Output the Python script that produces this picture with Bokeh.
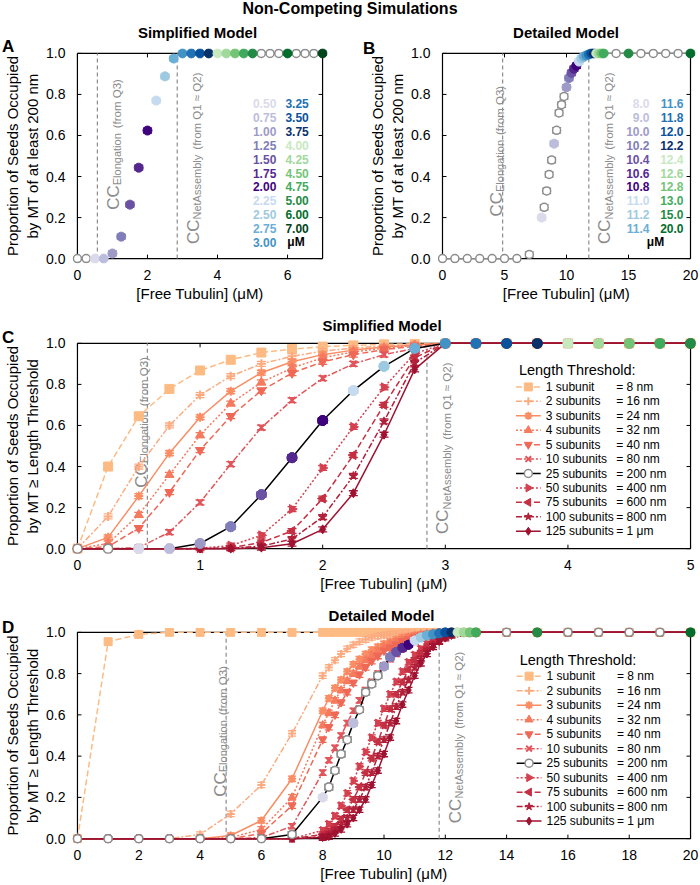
import math
from bokeh.plotting import figure
from bokeh.models import Range1d, FixedTicker, Div, NumeralTickFormatter
from bokeh.layouts import column, row
from bokeh.embed import file_html
from bokeh.resources import INLINE
from bokeh.core.properties import value

FONT = "Liberation Sans"
GRAY = "#8c8c8c"

# ---------------- Simplified model (A, C) ----------------
X_SIMPLE = [0.0, 0.25, 0.5, 0.75, 1.0, 1.25, 1.5, 1.75, 2.0, 2.25, 2.5, 2.75, 3.0,
            3.25, 3.5, 3.75, 4.0, 4.25, 4.5, 4.75, 5.0, 5.25, 5.5, 5.75, 6.0, 6.25, 6.5, 6.75, 7.0]
Y_SIMPLE_200NM = [0.0, 0.0, 0.0, 0.0, 0.025, 0.107, 0.263, 0.443, 0.624, 0.77, 0.888, 0.975, 1.0,
                  1.0, 1.0, 1.0, 1.0, 1.0, 1.0, 1.0, 1.0, 1.0, 1.0, 1.0, 1.0, 1.0, 1.0, 1.0, 1.0]
COLORS_SIMPLE = [None, None, "#dadaeb", "#bcbddc", "#9e9ac8", "#807dba", "#6a51a3", "#54278f", "#3f007d",
                 "#c6dbef", "#9ecae1", "#6baed6", "#4292c6", "#2171b5", "#08519c", "#08306b",
                 "#c7e9c0", "#a1d99b", "#74c476", "#41ab5d", "#238b45", None, None, None, "#006d2c",
                 None, None, None, "#00441b"]
SEM_SIMPLE = 0.012

X_C = [0.0, 0.25, 0.5, 0.75, 1.0, 1.25, 1.5, 1.75, 2.0, 2.25, 2.5, 2.75, 3.0,
       3.25, 3.5, 3.75, 4.0, 4.25, 4.5, 4.75, 5.0]
C_1 = [0, 0.40, 0.645, 0.778, 0.868, 0.92, 0.955, 0.972, 0.984, 0.99, 0.995, 0.998, 1, 1, 1, 1, 1, 1, 1, 1, 1]
C_2 = [0, 0.157, 0.40, 0.60, 0.748, 0.84, 0.90, 0.937, 0.962, 0.977, 0.987, 0.994, 1, 1, 1, 1, 1, 1, 1, 1, 1]
C_3 = [0, 0.055, 0.256, 0.465, 0.64, 0.767, 0.857, 0.91, 0.945, 0.967, 0.982, 0.992, 1, 1, 1, 1, 1, 1, 1, 1, 1]
C_4 = [0, 0.025, 0.165, 0.36, 0.553, 0.707, 0.81, 0.88, 0.93, 0.958, 0.976, 0.99, 1, 1, 1, 1, 1, 1, 1, 1, 1]
C_5 = [0, 0.01, 0.10, 0.275, 0.48, 0.645, 0.77, 0.855, 0.91, 0.945, 0.97, 0.985, 1, 1, 1, 1, 1, 1, 1, 1, 1]
C_10 = [0, 0, 0.005, 0.08, 0.225, 0.412, 0.59, 0.723, 0.83, 0.90, 0.945, 0.975, 1, 1, 1, 1, 1, 1, 1, 1, 1]
C_25 = [0, 0, 0, 0, 0.025, 0.107, 0.263, 0.443, 0.624, 0.77, 0.888, 0.975, 1, 1, 1, 1, 1, 1, 1, 1, 1]
C_50 = [0, 0, 0, 0, 0.002, 0.015, 0.065, 0.193, 0.393, 0.593, 0.786, 0.95, 1, 1, 1, 1, 1, 1, 1, 1, 1]
C_75 = [0, 0, 0, 0, 0, 0.005, 0.03, 0.086, 0.244, 0.456, 0.70, 0.93, 1, 1, 1, 1, 1, 1, 1, 1, 1]
C_100 = [0, 0, 0, 0, 0, 0.002, 0.012, 0.047, 0.154, 0.354, 0.62, 0.905, 1, 1, 1, 1, 1, 1, 1, 1, 1]
C_125 = [0, 0, 0, 0, 0, 0, 0.005, 0.024, 0.094, 0.27, 0.555, 0.873, 1, 1, 1, 1, 1, 1, 1, 1, 1]
C_COLORS_200NM = [None, None, "#dadaeb", "#bcbddc", "#9e9ac8", "#807dba", "#6a51a3", "#54278f", "#3f007d",
                  "#c6dbef", "#9ecae1", "#6baed6", "#4292c6", "#2171b5", "#08519c", "#08306b",
                  "#c7e9c0", "#a1d99b", "#74c476", "#41ab5d", "#238b45"]

# ---------------- Detailed model (B, D) ----------------
X_DETAIL = [0, 1, 2, 3, 4, 5, 6, 7,
            8.0, 8.2, 8.4, 8.6, 8.8, 9.0, 9.2, 9.4, 9.6, 9.8,
            10.0, 10.2, 10.4, 10.6, 10.8, 11.0, 11.2, 11.4, 11.6, 11.8,
            12.0, 12.2, 12.4, 12.6, 12.8, 13.0,
            14, 15, 16, 17, 18, 19, 20]
Y_DETAIL_200NM = [0, 0, 0, 0, 0, 0, 0, 0.02,
                  0.20, 0.25, 0.33, 0.41, 0.48, 0.56, 0.625, 0.71, 0.75, 0.79,
                  0.835, 0.88, 0.905, 0.925, 0.94, 0.96, 0.975, 0.985, 0.99, 0.995,
                  1, 1, 1, 1, 1, 1,
                  1, 1, 1, 1, 1, 1, 1]
COLORS_DETAIL = [None, None, None, None, None, None, None, None,
                 "#dadaeb", None, None, None, None, "#bcbddc", None, None, None, None,
                 "#9e9ac8", "#807dba", "#6a51a3", "#54278f", "#3f007d", "#c6dbef", "#9ecae1", "#6baed6",
                 "#4292c6", "#2171b5",
                 "#08519c", "#08306b", "#c7e9c0", "#a1d99b", "#74c476", "#41ab5d",
                 None, "#238b45", None, None, None, None, "#006d2c"]
SEM_DETAIL = 0.013

D_1 = [0, 0.955, 0.99, 1, 1, 1, 1, 1,
       1, 1, 1, 1, 1, 1, 1, 1, 1, 1,
       1, 1, 1, 1, 1, 1, 1, 1, 1, 1,
       1, 1, 1, 1, 1, 1,
       1, 1, 1, 1, 1, 1, 1]
D_2 = [0, 0, 0, 0, 0.02, 0.12, 0.26, 0.51,
       0.79, 0.83, 0.865, 0.895, 0.92, 0.94, 0.955, 0.965, 0.975, 0.982,
       0.987, 0.991, 0.994, 0.996, 0.998, 1, 1, 1, 1, 1,
       1, 1, 1, 1, 1, 1,
       1, 1, 1, 1, 1, 1, 1]
D_3 = [0, 0, 0, 0, 0, 0.015, 0.088, 0.29,
       0.62, 0.68, 0.73, 0.77, 0.81, 0.845, 0.87, 0.895, 0.915, 0.93,
       0.945, 0.955, 0.965, 0.975, 0.98, 0.985, 0.99, 0.993, 0.996, 0.998,
       1, 1, 1, 1, 1, 1,
       1, 1, 1, 1, 1, 1, 1]
D_4 = [0, 0, 0, 0, 0, 0.005, 0.045, 0.20,
       0.55, 0.61, 0.67, 0.72, 0.765, 0.80, 0.835, 0.865, 0.89, 0.91,
       0.93, 0.945, 0.955, 0.965, 0.975, 0.982, 0.988, 0.992, 0.995, 0.998,
       1, 1, 1, 1, 1, 1,
       1, 1, 1, 1, 1, 1, 1]
D_5 = [0, 0, 0, 0, 0, 0, 0.025, 0.16,
       0.48, 0.54, 0.60, 0.66, 0.71, 0.755, 0.795, 0.83, 0.86, 0.885,
       0.91, 0.925, 0.94, 0.955, 0.965, 0.975, 0.983, 0.99, 0.994, 0.997,
       1, 1, 1, 1, 1, 1,
       1, 1, 1, 1, 1, 1, 1]
D_10 = [0, 0, 0, 0, 0, 0, 0.005, 0.06,
        0.32, 0.38, 0.44, 0.50, 0.56, 0.62, 0.67, 0.72, 0.76, 0.80,
        0.84, 0.87, 0.895, 0.92, 0.94, 0.955, 0.97, 0.98, 0.988, 0.994,
        1, 1, 1, 1, 1, 1,
        1, 1, 1, 1, 1, 1, 1]
D_50 = [0, 0, 0, 0, 0, 0, 0, 0,
        0.04, 0.07, 0.11, 0.16, 0.22, 0.28, 0.35, 0.42, 0.49, 0.56,
        0.63, 0.70, 0.76, 0.81, 0.855, 0.89, 0.92, 0.945, 0.965, 0.98,
        0.99, 0.996, 1, 1, 1, 1,
        1, 1, 1, 1, 1, 1, 1]
D_75 = [0, 0, 0, 0, 0, 0, 0, 0,
        0.02, 0.035, 0.06, 0.095, 0.14, 0.19, 0.25, 0.32, 0.39, 0.47,
        0.55, 0.63, 0.70, 0.76, 0.82, 0.865, 0.90, 0.93, 0.955, 0.972,
        0.985, 0.993, 1, 1, 1, 1,
        1, 1, 1, 1, 1, 1, 1]
D_100 = [0, 0, 0, 0, 0, 0, 0, 0,
         0.01, 0.02, 0.04, 0.065, 0.10, 0.14, 0.19, 0.25, 0.32, 0.40,
         0.48, 0.56, 0.64, 0.71, 0.77, 0.83, 0.87, 0.91, 0.94, 0.96,
         0.978, 0.99, 1, 1, 1, 1,
         1, 1, 1, 1, 1, 1, 1]
D_125 = [0, 0, 0, 0, 0, 0, 0, 0,
         0.005, 0.01, 0.025, 0.045, 0.07, 0.10, 0.14, 0.19, 0.26, 0.33,
         0.41, 0.49, 0.57, 0.65, 0.72, 0.79, 0.85, 0.895, 0.93, 0.955,
         0.972, 0.985, 0.995, 1, 1, 1,
         1, 1, 1, 1, 1, 1, 1]

# critical concentrations (µM)
CC_ELONG_SIMPLE, CC_NET_SIMPLE = 0.57, 2.85
CC_ELONG_DETAIL, CC_NET_DETAIL = 4.85, 11.8

# length thresholds: label, equivalence, colour, dash, marker
SERIES_LABELS = ["1 subunit", "2 subunits", "3 subunits", "4 subunits", "5 subunits", "10 subunits",
                 "25 subunits", "50 subunits", "75 subunits", "100 subunits", "125 subunits"]
SERIES_EQ = ["= 8 nm", "= 16 nm", "= 24 nm", "= 32 nm", "= 40 nm", "= 80 nm",
             "= 200 nm", "= 400 nm", "= 600 nm", "= 800 nm", "= 1 μm"]
SERIES_COLORS = ["#fdbb84", "#fcab80", "#fa8d64", "#f57a5e", "#ef6856", "#e1545a",
                 "black", "#d4404f", "#c52f42", "#b31f38", "#9f1230"]
SERIES_DASH = ["6 3", "6 2 2 2", "solid", "2 2", "6 3", "6 2 2 2",
               "solid", "2 2", "6 3", "6 2 2 2", "solid"]
SERIES_MARKER = [("square", 0), ("cross", 0), ("asterisk", 0), ("triangle", 0), ("inverted_triangle", 0),
                 ("x", 0), ("circle", 0), ("triangle", -math.pi / 2), ("triangle", math.pi / 2),
                 ("star", 0), ("diamond", 0)]
C_SERIES = [C_1, C_2, C_3, C_4, C_5, C_10, C_25, C_50, C_75, C_100, C_125]
D_SERIES = [D_1, D_2, D_3, D_4, D_5, D_10, Y_DETAIL_200NM, D_50, D_75, D_100, D_125]

CHAR_EM = {"C": .722, "E": .667, "l": .222, "o": .556, "n": .556, "g": .556, "a": .556, "t": .278,
           "i": .222, "N": .722, "e": .556, "A": .667, "s": .5, "m": .833, "b": .556, "y": .5}
PAD = 5  # px of room around the 0..1 box so that edge markers are not cut


def text_w(s, size):
    return sum(CHAR_EM.get(c, 0.556) for c in s) * size


def style_axis(ax, standoff):
    ax.major_tick_line_color = None
    ax.minor_tick_line_color = None
    ax.axis_line_color = None
    ax.major_label_text_font = FONT
    ax.major_label_text_font_size = "14px"
    ax.major_label_text_color = "black"
    ax.major_label_standoff = standoff
    ax.axis_label_text_font = FONT
    ax.axis_label_text_font_size = "15px"
    ax.axis_label_text_font_style = "normal"
    ax.axis_label_text_color = "black"
    ax.axis_label_standoff = 2


def make_panel(width, height, borders, x_end, xticks, ylabel, box_w, box_h):
    left, right, top, bottom = borders
    dxp = PAD * x_end / box_w
    dyp = PAD / box_h
    p = figure(width=width, height=height, x_range=Range1d(-dxp, x_end + dxp),
               y_range=Range1d(-dyp, 1 + dyp),
               output_backend="svg", toolbar_location=None, tools="", title=None,
               min_border_left=left, min_border_right=right,
               min_border_top=top, min_border_bottom=bottom)
    p.outline_line_color = None
    p.xgrid.visible = False
    p.ygrid.visible = False
    p.background_fill_color = None
    p.border_fill_color = None
    yt = [0, 0.2, 0.4, 0.6, 0.8, 1.0]
    p.xaxis.ticker = FixedTicker(ticks=xticks)
    p.yaxis.ticker = FixedTicker(ticks=yt)
    p.yaxis.formatter = NumeralTickFormatter(format="0.0")
    p.xaxis.axis_label = "[Free Tubulin] (μM)"
    p.yaxis.axis_label = ylabel
    for ax in p.xaxis:
        style_axis(ax, 0)
    for ax in p.yaxis:
        style_axis(ax, 1)
    # plot box at 0..x_end, 0..1 with inward ticks
    p.segment(x0=[0, x_end, 0, 0], y0=[0, 0, 0, 1], x1=[0, x_end, x_end, x_end], y1=[1, 1, 0, 1],
              line_color="black", line_width=1.2)
    tk = dict(length=4, length_units="screen", line_color="black", line_width=1)
    p.ray(x=[0] * len(yt), y=yt, angle=0, **tk)
    p.ray(x=[x_end] * len(yt), y=yt, angle=math.pi, **tk)
    p.ray(x=xticks, y=[0] * len(xticks), angle=math.pi / 2, **tk)
    p.ray(x=xticks, y=[1] * len(xticks), angle=-math.pi / 2, **tk)
    return p


def cc_label(p, x, y, sub, note, side):
    big, small, note_size = 17, 11, 11.5
    offs = (16, 20, 20) if side == "right" else (-6, -3, -3)
    w_cc = text_w("CC", big)
    w_sub = text_w(sub, small)
    common = dict(angle=math.pi / 2, text_align="left", text_baseline="alphabetic",
                  text_color=GRAY, text_font=value(FONT))
    p.text(x=[x], y=[y], text=["CC"], x_offset=offs[0], y_offset=0,
           text_font_size=f"{big}px", **common)
    p.text(x=[x], y=[y], text=[sub], x_offset=offs[1], y_offset=-w_cc,
           text_font_size=f"{small}px", **common)
    p.text(x=[x], y=[y], text=[note], x_offset=offs[2], y_offset=-(w_cc + w_sub + 5),
           text_font_size=f"{note_size}px", **common)


def cc_lines(p, elong, net, y_el, y_net, el_side):
    p.segment(x0=[elong, net], y0=[0, 0], x1=[elong, net], y1=[1, 1], line_color=GRAY,
              line_dash="4 3", line_width=1.2)
    cc_label(p, elong, y_el, "Elongation", "(from Q3)", el_side)
    cc_label(p, net, y_net, "NetAssembly", "(from Q1 ≈ Q2)", "right")


def errorbars(p, xs, ys, colors, err, cap):
    ex, lo, hi, cc = [], [], [], []
    for x, y, c in zip(xs, ys, colors):
        if 0 < y < 1:
            ex.append(x); lo.append(y - err); hi.append(y + err); cc.append(c)
    if not ex:
        return
    p.segment(x0=ex, y0=lo, x1=ex, y1=hi, line_color=cc, line_width=1.3)
    p.scatter(x=ex, y=lo, marker="dash", size=cap, line_color=cc, line_width=1.3)
    p.scatter(x=ex, y=hi, marker="dash", size=cap, line_color=cc, line_width=1.3)


def draw_200nm_markers(p, xs, ys, colors, size, err):
    cols = [c if c else GRAY for c in colors]
    errorbars(p, xs, ys, cols, err, size)
    cx = [x for x, c in zip(xs, colors) if c]
    cy = [y for y, c in zip(ys, colors) if c]
    cc = [c for c in colors if c]
    gx = [x for x, c in zip(xs, colors) if not c]
    gy = [y for y, c in zip(ys, colors) if not c]
    p.scatter(x=gx, y=gy, marker="circle", size=size - 1, fill_color="white",
              line_color=GRAY, line_width=1.5)
    p.scatter(x=cx, y=cy, marker="circle", size=size, fill_color=cc, line_color=cc)


def draw_flat_links(p, xs, ys):
    x0, y0, x1, y1 = [], [], [], []
    for i in range(len(xs) - 1):
        if ys[i] == ys[i + 1]:
            x0.append(xs[i]); y0.append(ys[i]); x1.append(xs[i + 1]); y1.append(ys[i + 1])
    p.segment(x0=x0, y0=y0, x1=x1, y1=y1, line_color=GRAY, line_width=1.2)


def conc_legend(p, xs, colors, fmt, fw, fh, x_end, col_right, unit_x):
    entries = [(fmt % x, c) for x, c in zip(xs, colors) if c]
    split = (len(entries) + 1) // 2
    tx, ty, tt, tc = [], [], [], []
    for i, (lab, c) in enumerate(entries):
        col = 0 if i < split else 1
        r = i if col == 0 else i - split
        tx.append(col_right[col] / fw * x_end)
        ty.append(1 - (51.5 + r * 14.2) / fh)
        tt.append(lab); tc.append(c)
    p.text(x=tx, y=ty, text=tt, text_color=tc, text_font=value(FONT), text_font_size="12px",
           text_font_style="bold", text_align="right", text_baseline="middle")
    p.text(x=[unit_x / fw * x_end], y=[1 - (51.5 + 10 * 14.2) / fh], text=["μM"], text_color="black",
           text_font=value(FONT), text_font_size="12px", text_font_style="bold",
           text_align="center", text_baseline="middle")


def threshold_panel(p, xs, series, colors200, fw, fh, x_end, size, err):
    for i, ys in enumerate(series):
        col = SERIES_COLORS[i]
        p.line(x=xs, y=ys, line_color=col, line_dash=SERIES_DASH[i], line_width=1.5)
        if i == 6:
            draw_200nm_markers(p, xs, ys, colors200, size + 1, err)
            continue
        errorbars(p, xs, ys, [col] * len(xs), err, size)
        mk, ang = SERIES_MARKER[i]
        p.scatter(x=xs, y=ys, marker=mk, angle=ang, size=size, fill_color=col, line_color=col,
                  line_width=2 if mk in ("cross", "x", "asterisk") else 1)
    draw_200nm_markers(p, xs, series[6], colors200, size + 1, err)

    def dx(px):
        return px / fw * x_end

    def dy(py):
        return 1 - py / fh
    p.text(x=[dx(445)], y=[dy(28)], text=["Length Threshold:"], text_font=value(FONT),
           text_font_size="14.5px", text_align="left", text_baseline="middle", text_color="black")
    for i, lab in enumerate(SERIES_LABELS):
        yy = dy(45 + i * 14.9)
        col = SERIES_COLORS[i]
        p.line(x=[dx(442), dx(467)], y=[yy, yy], line_color=col, line_dash=SERIES_DASH[i], line_width=1.5)
        mk, ang = SERIES_MARKER[i]
        if i == 6:
            p.scatter(x=[dx(454.5)], y=[yy], marker="circle", size=8, fill_color="white",
                      line_color=GRAY, line_width=1.5)
        else:
            p.scatter(x=[dx(454.5)], y=[yy], marker=mk, angle=ang, size=8, fill_color=col,
                      line_color=col, line_width=2 if mk in ("cross", "x", "asterisk") else 1)
        p.text(x=[dx(472)], y=[yy], text=[lab], text_font=value(FONT), text_font_size="12px",
               text_align="left", text_baseline="middle", text_color="black")
        p.text(x=[dx(543)], y=[yy], text=[SERIES_EQ[i]], text_font=value(FONT), text_font_size="12px",
               text_align="left", text_baseline="middle", text_color="black")


def header_div(height, items):
    parts = []
    for text, left, width, top, size, align in items:
        w = f"width:{width}px;" if width else ""
        parts.append(f'<div style="position:absolute;left:{left}px;top:{top}px;{w}text-align:{align};'
                     f'font-size:{size}px;font-weight:bold;line-height:{size + 2}px;white-space:nowrap;">'
                     f'{text}</div>')
    html = (f'<div style="position:relative;width:700px;height:{height}px;overflow:visible;'
            f'font-family:\'Liberation Sans\',Arial,sans-serif;color:black;">' + "".join(parts) + '</div>')
    return Div(text=html, width=700, height=height, margin=(0, 0, 0, 0),
               styles={"overflow": "visible", "z-index": "5"})


YLAB_AB = "Proportion of Seeds Occupied\nby MT of at least 200 nm"
YLAB_CD = "Proportion of Seeds Occupied\nby MT ≥ Length Threshold"

# ---------- Panel A ----------
pa = make_panel(332, 264, (68, 5, 8, 36), 7, [0, 2, 4, 6], YLAB_AB, 249, 210)
cc_lines(pa, CC_ELONG_SIMPLE, CC_NET_SIMPLE, 0.238, 0.071, "right")
draw_flat_links(pa, X_SIMPLE, Y_SIMPLE_200NM)
draw_200nm_markers(pa, X_SIMPLE, Y_SIMPLE_200NM, COLORS_SIMPLE, 9, SEM_SIMPLE)
conc_legend(pa, X_SIMPLE, COLORS_SIMPLE, "%.2f", 249, 210, 7, (202, 235), 222)

# ---------- Panel B ----------
pb = make_panel(368, 264, (105, 5, 8, 36), 20, [0, 5, 10, 15, 20], YLAB_AB, 248, 210)
cc_lines(pb, CC_ELONG_DETAIL, CC_NET_DETAIL, 0.205, 0.071, "left")
draw_flat_links(pb, X_DETAIL, Y_DETAIL_200NM)
draw_200nm_markers(pb, X_DETAIL, Y_DETAIL_200NM, COLORS_DETAIL, 9, SEM_DETAIL)
conc_legend(pb, X_DETAIL, COLORS_DETAIL, "%.1f", 248, 210, 20, (207, 241), 213)

# ---------- Panel C ----------
pc = make_panel(700, 264, (68, 4, 8, 34), 5, [0, 1, 2, 3, 4, 5], YLAB_CD, 618, 212)
cc_lines(pc, CC_ELONG_SIMPLE, CC_NET_SIMPLE, 0.297, 0.071, "left")
threshold_panel(pc, X_C, C_SERIES, C_COLORS_200NM, 618, 212, 5, 9, SEM_SIMPLE)

# ---------- Panel D ----------
pd = make_panel(700, 265, (68, 5, 8, 35), 20, list(range(0, 21, 2)), YLAB_CD, 617, 212)
cc_lines(pd, CC_ELONG_DETAIL, CC_NET_DETAIL, 0.203, 0.075, "left")
threshold_panel(pd, X_DETAIL, D_SERIES, COLORS_DETAIL, 617, 212, 20, 8, SEM_DETAIL)

head_ab = header_div(40, [("Non-Competing Simulations", 0, 700, 0, 16, "center"),
                          ("Simplified Model", 73, 249, 24, 15, "center"),
                          ("Detailed Model", 442, 248, 24, 15, "center"),
                          ("A", 2, 0, 37, 17, "left"),
                          ("B", 363, 0, 39, 17, "left")])
head_c = header_div(26, [("Simplified Model", 73, 618, 13, 15, "center"),
                         ("C", 2, 0, 24, 17, "left")])
head_d = header_div(25, [("Detailed Model", 73, 617, 13, 15, "center"),
                         ("D", 2, 0, 24, 17, "left")])

layout = column(head_ab, row(pa, pb), head_c, pc, head_d, pd)
open("out.html", "w").write(file_html(layout, INLINE))
